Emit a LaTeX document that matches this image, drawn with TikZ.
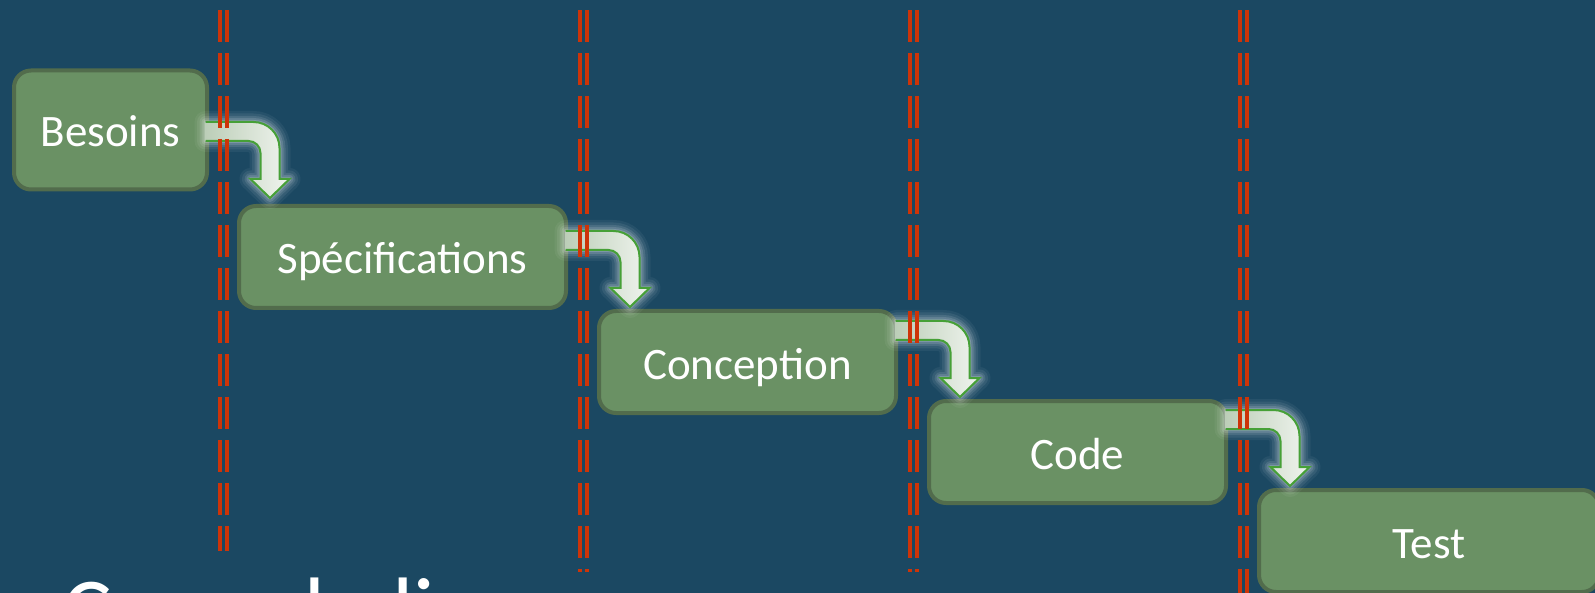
\documentclass[tikz,border=0pt]{standalone}
\usepackage{fontspec}
\setmainfont{Carlito}
\usetikzlibrary{calc}

\definecolor{bg}{RGB}{27,72,98}
\definecolor{boxfill}{RGB}{106,145,100}
\definecolor{boxline}{RGB}{82,108,76}
\definecolor{dashred}{RGB}{205,52,8}
\definecolor{arrowline}{RGB}{70,160,55}
\definecolor{arrowleft}{RGB}{188,206,184}
\definecolor{arrowright}{RGB}{240,244,238}

% outline of the bent block arrow, tip at the origin
\newcommand\arrowoutline{(-64.5,-76) -- (-16.5,-76)
  .. controls (-2.15,-76) and (9.5,-64.35) .. (9.5,-50)
  -- (9.5,-19) -- (19.5,-19) -- (0,0) -- (-19.5,-19) -- (-9.5,-19) -- (-9.5,-45)
  .. controls (-9.5,-51.6) and (-14.9,-57) .. (-21.5,-57) -- (-64.5,-57)}

\tikzset{
  stage/.style={rectangle, rounded corners=17pt, draw=boxline, line width=4pt,
    fill=boxfill, text=white, font=\fontsize{45}{52}\selectfont,
    text height=34pt, text depth=0pt, inner sep=0pt},
  divider/.style={draw=dashred, line width=3.6pt, dash pattern=on 32pt off 11pt},
  bentarrow/.pic={
    \foreach \w/\o in {22/0.05, 17/0.07, 12/0.1, 8/0.13, 4/0.18}
      \draw[white, line width=\w pt, opacity=\o, line join=round] \arrowoutline -- cycle;
    \shade[left color=arrowleft, right color=arrowright] \arrowoutline -- cycle;
    \draw[arrowline, line width=2pt, line join=miter] \arrowoutline;
  }
}

\begin{document}
\begin{tikzpicture}[x=1pt, y=-1pt]
  \useasboundingbox (0,0) rectangle (1595,593);
  \clip (0,0) rectangle (1595,593);
  \fill[bg] (0,0) rectangle (1595,593);

  % title line, mostly below the lower edge
  \node[anchor=base west, inner sep=0pt, text=white,
        font=\fontsize{93}{112}\selectfont] (title) at (62.5,642) {Cascade lisse};

  % process stages
  \node[stage, minimum width=193pt, minimum height=119pt] (besoins) at (110.5,130) {Besoins};
  \node[stage, minimum width=327pt, minimum height=102pt] (spec) at (402.5,257) {Spécifications};
  \node[stage, minimum width=297pt, minimum height=102pt] (conc) at (747.5,362) {Conception};
  \node[stage, minimum width=297pt, minimum height=102pt] (code) at (1077.5,452) {Code};
  \node[stage, minimum width=340pt, minimum height=102pt] (test) at (1429,541) {Test};

  % bent arrows from one stage down to the next
  \pic at ($(spec.north west)+(33,-6)$) {bentarrow};
  \pic at ($(conc.north west)+(33,-2)$) {bentarrow};
  \pic at ($(code.north west)+(33,-2)$) {bentarrow};
  \pic at ($(test.north west)+(33,-2)$) {bentarrow};

  % double dashed separators between phases
  \foreach \x/\e in {220/551, 227/551, 580/572, 587/572, 910/572, 917/572, 1240/600, 1247/600}
    \draw[divider] (\x,10) -- (\x,\e);
\end{tikzpicture}
\end{document}
